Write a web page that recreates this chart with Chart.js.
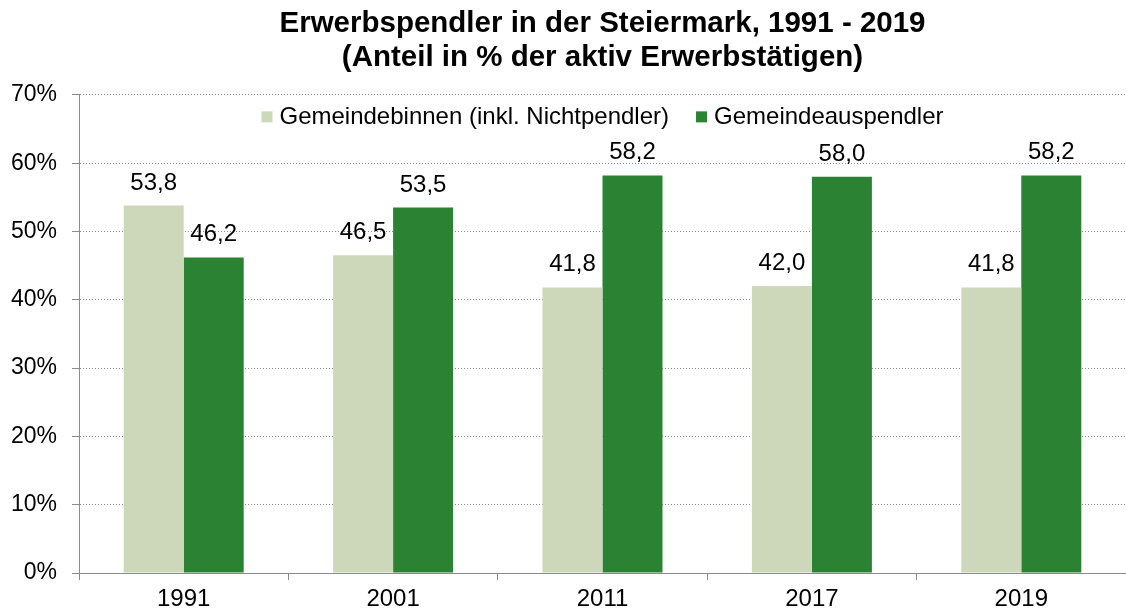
<!DOCTYPE html>
<html>
<head>
<meta charset="utf-8">
<script src="https://cdn.jsdelivr.net/npm/chart.js@4"></script>
<style>
  html, body { margin: 0; padding: 0; background: #fff; }
  #wrap { width: 1126px; height: 614px; }
</style>
</head>
<body>
<div id="wrap"><canvas id="grafik"></canvas></div>
<script>
// Daten
const jahre = ['1991', '2001', '2011', '2017', '2019'];
const gemeindebinnen = [53.8, 46.5, 41.8, 42.0, 41.8];
const gemeindeauspendler = [46.2, 53.5, 58.2, 58.0, 58.2];
const serienNamen = ['Gemeindebinnen (inkl. Nichtpendler)', 'Gemeindeauspendler'];
const yTicks = [0, 10, 20, 30, 40, 50, 60, 70];

const schrift = '"Liberation Sans", Arial, sans-serif';
Chart.defaults.font.family = schrift;
Chart.defaults.color = '#000';

// Werte über den Balken
const wertePlugin = {
    id: 'werte',
    afterDatasetsDraw(chart) {
        const ctx = chart.ctx;
        ctx.save();
        ctx.font = '24px ' + schrift;
        ctx.fillStyle = '#000';
        ctx.textAlign = 'center';
        ctx.textBaseline = 'alphabetic';
        chart.data.datasets.forEach((ds, i) => {
            chart.getDatasetMeta(i).data.forEach((bar, j) => {
                const txt = ds.data[j].toFixed(1).replace('.', ',');
                ctx.fillText(txt, bar.x, bar.y - 16);
            });
        });
        ctx.restore();
    }
};

// Legende innerhalb der Zeichenfläche
const legendePlugin = {
    id: 'legendeInnen',
    afterDraw(chart) {
        const ctx = chart.ctx;
        const area = chart.chartArea;
        ctx.save();
        ctx.font = '24px ' + schrift;
        ctx.textBaseline = 'middle';
        const box = 11, gap = 7, abstand = 27;
        const items = chart.data.datasets.map(ds => ({
            text: ds.label, color: ds.backgroundColor, w: box + gap + ctx.measureText(ds.label).width
        }));
        const gesamt = items.reduce((s, it) => s + it.w, 0) + abstand * (items.length - 1);
        let x = (area.left + area.right) / 2 - gesamt / 2;
        const y = area.top + 22;
        items.forEach(it => {
            ctx.fillStyle = it.color;
            ctx.fillRect(x, y - box / 2, box, box);
            ctx.fillStyle = '#000';
            ctx.fillText(it.text, x + box + gap, y + 1);
            x += it.w + abstand;
        });
        ctx.restore();
    }
};

new Chart(document.getElementById('grafik'), {
    type: 'bar',
    data: {
        labels: jahre,
        datasets: [
            { label: serienNamen[0], data: gemeindebinnen, backgroundColor: '#cdd8bb' },
            { label: serienNamen[1], data: gemeindeauspendler, backgroundColor: '#2a8232' }
        ]
    },
    options: {
        responsive: true,
        maintainAspectRatio: false,
        animation: false,
        layout: { padding: { left: 0, right: 0, top: 7, bottom: 0 } },
        datasets: {
            bar: { categoryPercentage: 0.573, barPercentage: 1.0 }
        },
        scales: {
            x: {
                afterFit(axis) { axis.height = 41; },
                grid: {
                    offset: true,
                    drawOnChartArea: false,
                    drawTicks: true,
                    tickLength: 7,
                    color: '#8c8c8c'
                },
                border: { color: '#8c8c8c', width: 1 },
                ticks: { font: { size: 24 }, color: '#000', padding: 5 }
            },
            y: {
                min: 0,
                max: 70,
                afterFit(axis) { axis.width = 79; },
                afterBuildTicks(axis) {
                    axis.ticks = yTicks.map(v => ({ value: v }));
                },
                grid: {
                    color: '#8c8c8c',
                    tickLength: 7,
                    tickBorderDash: [],
                    drawTicks: true
                },
                border: { color: '#8c8c8c', width: 1, dash: [1, 2] },
                ticks: {
                    font: { size: 23 },
                    color: '#000',
                    padding: 15,
                    callback: v => v + '%'
                }
            }
        },
        plugins: {
            legend: { display: false },
            tooltip: { enabled: false },
            title: {
                display: true,
                text: ['Erwerbspendler in der Steiermark, 1991 - 2019', '(Anteil in % der aktiv Erwerbstätigen)'],
                font: { size: 29.5, weight: 'bold', lineHeight: 1.15 },
                color: '#000',
                fullSize: false,
                padding: { top: 0, bottom: 20 }
            }
        }
    },
    plugins: [wertePlugin, legendePlugin]
});
</script>
</body>
</html>
